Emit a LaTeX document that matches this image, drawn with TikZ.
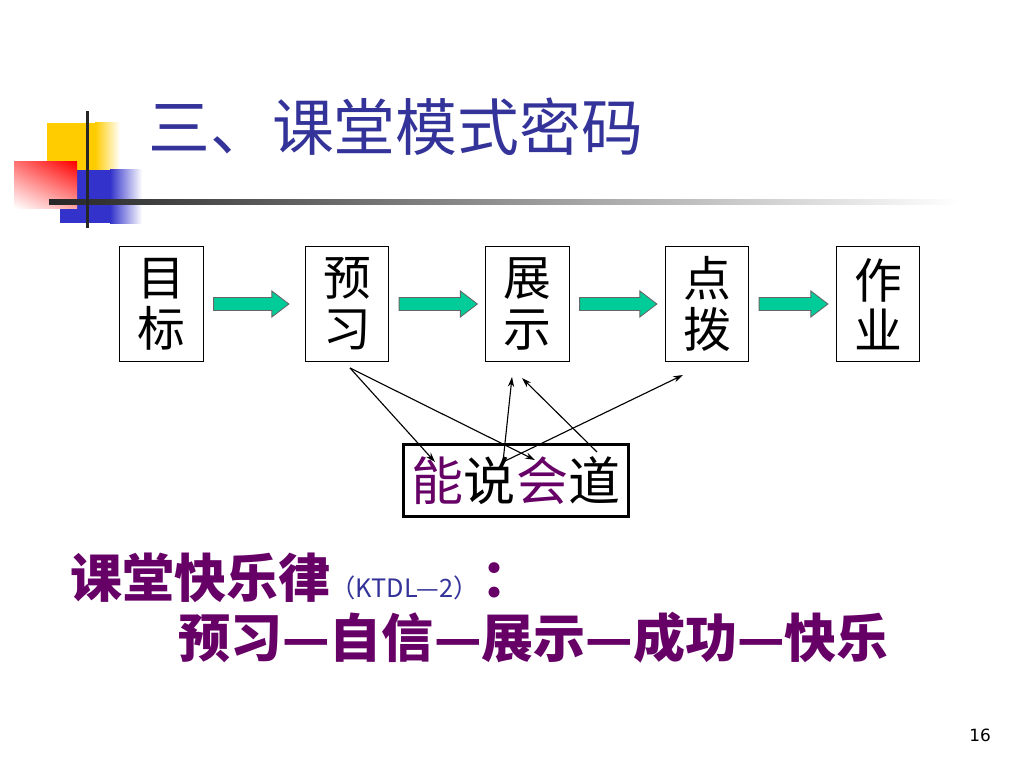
\documentclass[tikz,border=0pt]{standalone}
\usepackage{fontspec}
\usepackage{xcolor}
\usepackage{tikz}
\usetikzlibrary{arrows,arrows.meta,calc,positioning,shadings}
\newfontfamily\cjk{Noto Sans CJK SC}
\newfontfamily\numfont{DejaVu Sans}
\definecolor{ktblue}{RGB}{51,51,153}
\definecolor{ktpurple}{RGB}{102,0,102}
\definecolor{ktgreen}{RGB}{0,204,153}
\definecolor{ktyellow}{RGB}{255,204,0}
\definecolor{ktnavy}{RGB}{51,51,204}
\tikzstyle{stepbox} = [draw, line width=0.7pt, minimum width=2.08cm, minimum height=2.85cm, inner sep=0pt, align=center, font=\cjk\fontsize{34}{36}\selectfont]
\tikzstyle{fatarrow} = [fill=ktgreen, draw=black!60, line width=0.6pt]
\tikzstyle{arrow} = [-{Stealth[length=7pt,width=4.5pt]}, line width=0.8pt]
\tikzstyle{bigtext} = [anchor=base west, inner sep=0pt, text=ktpurple, font=\cjk\bfseries\fontsize{37}{37}\selectfont]

% green block arrow between two boxes, #3 = gap before the tip
\newcommand{\greenarrow}[3]{%
  \draw[fatarrow] ($(#1.east)+(10,-6.5)$) -- ($(#2.west)+(-#3-17,-6.5)$)
    -- ($(#2.west)+(-#3-17,-13)$) -- ($(#2.west)+(-#3,0)$)
    -- ($(#2.west)+(-#3-17,13)$) -- ($(#2.west)+(-#3-17,6.5)$)
    -- ($(#1.east)+(10,6.5)$) -- cycle;}

\begin{document}
\begin{tikzpicture}[x=0.025cm, y=-0.025cm]
\fill[white] (0,0) rectangle (1024,768);
\useasboundingbox (0,0) rectangle (1024,768);

% title mark
\fill[ktyellow] (47,123) rectangle (95,170);
\shade[left color=ktyellow, right color=white] (95,123) rectangle (120,170);
\fill[ktnavy] (60,170) rectangle (110,223);
\shade[left color=ktnavy, right color=white] (110,170) rectangle (142,223);
\shade[upper right=red, lower left=white, upper left=red!55, lower right=red!35] (14,162) rectangle (77,208);
\shade[left color=black!85, right color=white] (49,199) rectangle (960,204);
\fill[black!85] (85.5,111) rectangle (88.5,228);

% title
\node[anchor=west, inner sep=0pt, text=ktblue, font=\cjk\fontsize{44}{44}\selectfont] (title) at (148,127) {三、课堂模式密码};

% steps
\node[stepbox] (mubiao) at (161.5,304) {目\\标};
\node[stepbox] (yuxi) at (347,304) {预\\习};
\node[stepbox] (zhanshi) at (527.5,304) {展\\示};
\node[stepbox] (dianbo) at (707,304) {点\\拨};
\node[stepbox] (zuoye) at (878,304) {作\\业};

\greenarrow{mubiao}{yuxi}{16}
\greenarrow{yuxi}{zhanshi}{8}
\greenarrow{zhanshi}{dianbo}{8}
\greenarrow{dianbo}{zuoye}{8}

% talk box
\node[draw, line width=2.2pt, minimum width=5.63cm, minimum height=1.8cm, inner sep=0pt, font=\cjk\fontsize{37}{37}\selectfont] (nengshuo) at (516,480.5) {\textcolor{ktpurple}{能}说\textcolor{ktpurple}{会}道};

% thin arrows
\coordinate (y0) at (350,368);
\coordinate (n1) at (435,462);
\coordinate (n2) at (535,460);
\coordinate (n3) at (503,462);
\coordinate (n4) at (597,452);
\coordinate (z1) at (512,377);
\coordinate (z2) at (522,378);
\coordinate (d1) at (683,375);
\draw[arrow] (y0) -- (n1);
\draw[arrow] (y0) -- (n2);
\draw[arrow] (n3) -- (z1);
\draw[arrow] (n4) -- (z2);
\draw[arrow] (n3) -- (d1);

% happy rule
\node[bigtext] (lv) at (70,597) {课堂快乐律{\mdseries\fontsize{18}{18}\selectfont\color{ktblue}（KTDL—2）}\hspace{2pt}：};
\node[bigtext] (chain) at (178,657) {预习—自信—展示—成功—快乐};

\node[font=\numfont\fontsize{12}{12}\selectfont] (page) at (980,735) {16};
\end{tikzpicture}
\end{document}
